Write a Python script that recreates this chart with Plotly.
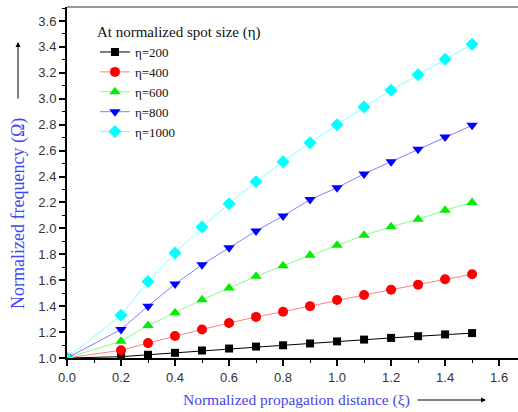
import plotly.graph_objects as go

xi = [0.0, 0.2, 0.3, 0.4, 0.5, 0.6, 0.7, 0.8, 0.9, 1.0, 1.1, 1.2, 1.3, 1.4, 1.5]

eta200 = [1.0, 1.01, 1.025, 1.04, 1.058, 1.073, 1.088, 1.098, 1.112, 1.128, 1.142, 1.155, 1.168, 1.182, 1.192]
eta400 = [1.0, 1.06, 1.115, 1.17, 1.22, 1.27, 1.317, 1.357, 1.40, 1.447, 1.486, 1.527, 1.566, 1.607, 1.646]
eta600 = [1.0, 1.13, 1.25, 1.35, 1.45, 1.54, 1.63, 1.712, 1.792, 1.87, 1.947, 2.013, 2.07, 2.14, 2.20]
eta800 = [1.0, 1.22, 1.40, 1.57, 1.72, 1.85, 1.98, 2.096, 2.222, 2.314, 2.42, 2.515, 2.61, 2.705, 2.795]
eta1000 = [1.0, 1.33, 1.59, 1.81, 2.01, 2.19, 2.36, 2.515, 2.66, 2.80, 2.937, 3.066, 3.186, 3.305, 3.42]

names = ["η=200", "η=400", "η=600", "η=800", "η=1000"]
series = [eta200, eta400, eta600, eta800, eta1000]
line_colors = ["#000000", "#ff8080", "#80ff80", "#8080ff", "#80ffff"]
marker_colors = ["#000000", "#ff0000", "#00ee00", "#0000ff", "#00ffff"]
symbols = ["square", "circle", "triangle-up", "triangle-down", "diamond"]
sizes = [8, 10, 10, 10, 10]

fig = go.Figure()
for name, ys, lc, mc, sym, sz in zip(names, series, line_colors, marker_colors, symbols, sizes):
    fig.add_trace(go.Scatter(
        x=xi, y=ys, name=name, mode="lines+markers",
        line=dict(color=lc, width=1),
        marker=dict(symbol=sym, color=mc, size=sz),
    ))

serif = "Liberation Serif, Times New Roman, serif"
sans = "Liberation Sans, Arial, sans-serif"

fig.update_layout(
    width=518, height=412,
    margin=dict(l=67, r=0, t=7, b=54),
    paper_bgcolor="white", plot_bgcolor="white",
    showlegend=True,
    legend=dict(
        title=dict(text="At normalized spot size (η)", font=dict(family=serif, size=15, color="#111")),
        font=dict(family=serif, size=13, color="#111"),
        x=0.062, y=0.97, xanchor="left", yanchor="top",
        bgcolor="rgba(0,0,0,0)", tracegroupgap=0, itemwidth=30,
    ),
    xaxis=dict(
        range=[0, 1.67], showgrid=False, zeroline=False,
        showline=True, linecolor="black", linewidth=2,
        ticks="outside", tickwidth=1.5, ticklen=6, tickcolor="black",
        tick0=0, dtick=0.2, tickformat=".1f",
        tickfont=dict(family=sans, size=13, color="#333"),
        minor=dict(ticks="outside", ticklen=3, tickwidth=1, tickcolor="black", dtick=0.1),
        mirror=False,
    ),
    yaxis=dict(
        range=[1.0, 3.708], showgrid=False, zeroline=False,
        showline=True, linecolor="black", linewidth=2,
        ticks="outside", tickwidth=1.5, ticklen=6, tickcolor="black",
        tick0=1.0, dtick=0.2, tickformat=".1f",
        tickfont=dict(family=sans, size=13, color="#333"),
        minor=dict(ticks="outside", ticklen=3, tickwidth=1, tickcolor="black", dtick=0.1),
    ),
)

# top border line
fig.add_shape(type="line", xref="paper", yref="paper", x0=0, x1=1, y0=1, y1=1,
              line=dict(color="#999", width=2))

# axis titles with arrows
fig.add_annotation(text="Normalized propagation distance (ξ)", xref="paper", yref="paper",
                   x=(296 - 67) / 451, y=-(400 - 358) / 351, showarrow=False,
                   font=dict(family=serif, size=15.5, color="#4444ee"), xanchor="center", yanchor="middle")
fig.add_annotation(xref="paper", yref="paper", axref="pixel", ayref="pixel",
                   x=(486 - 67) / 451, y=-(400 - 358) / 351,
                   ax=-70, ay=0,
                   showarrow=True, arrowhead=2, arrowsize=1, arrowwidth=1, arrowcolor="black", text="")
fig.add_annotation(text="Normalized frequency (Ω)", xref="paper", yref="paper",
                   x=-(67 - 18) / 451, y=1 - (214 - 7) / 351, showarrow=False, textangle=-90,
                   font=dict(family=serif, size=18, color="#4444ee"), xanchor="center", yanchor="middle")
fig.add_annotation(xref="paper", yref="paper", axref="pixel", ayref="pixel",
                   x=-(67 - 18) / 451, y=1 - (42 - 7) / 351,
                   ax=0, ay=58,
                   showarrow=True, arrowhead=2, arrowsize=1, arrowwidth=1, arrowcolor="black", text="")

fig.write_html("out.html")
